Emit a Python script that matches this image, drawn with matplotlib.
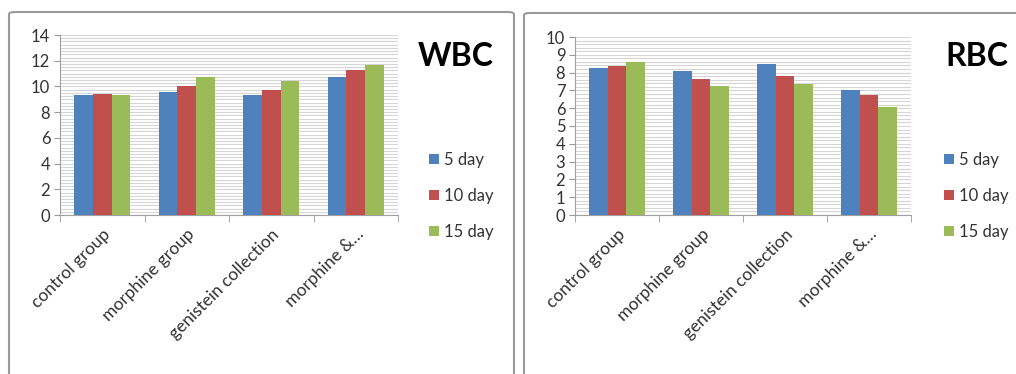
import matplotlib.pyplot as plt
import numpy as np
from matplotlib.patches import FancyBboxPatch
from matplotlib.ticker import MultipleLocator, FixedLocator

plt.rcParams['font.family'] = ['Lato', 'DejaVu Sans']

# groups and days
groups = ['control group', 'morphine group', 'genistein collection', 'morphine &…']
days = ['5 day', '10 day', '15 day']
colors = ['#4F81BD', '#C0504D', '#9BBB59']

# white blood cells
wbc_5 = [9.3, 9.6, 9.35, 10.75]
wbc_10 = [9.45, 10.0, 9.75, 11.25]
wbc_15 = [9.3, 10.75, 10.4, 11.65]

# red blood cells
rbc_5 = [8.25, 8.07, 8.5, 7.03]
rbc_10 = [8.37, 7.66, 7.79, 6.75]
rbc_15 = [8.58, 7.27, 7.36, 6.07]

W, H = 1016, 374
fig = plt.figure(figsize=(W / 100, H / 100), dpi=100)


def px(x0, y0, x1, y1):
    # pixel box (top-left origin) -> figure rect
    return [x0 / W, 1 - y1 / H, (x1 - x0) / W, (y1 - y0) / H]


# panel frames
for (x0, y0, x1, y1) in [(9, 12, 514, 380), (524, 13, 1030, 380)]:
    fig.patches.append(FancyBboxPatch((x0 / W, 1 - y1 / H), (x1 - x0) / W, (y1 - y0) / H,
                                      boxstyle='round,pad=0,rounding_size=0.006',
                                      transform=fig.transFigure, fill=False,
                                      edgecolor='#9a9a9a', linewidth=1.5))


def draw_panel(rect, series, ymax, minor, title, title_xy, leg_xy):
    ax = fig.add_axes(rect)
    x = np.arange(len(groups))
    w = 0.22
    for i, (vals, lab) in enumerate(zip(series, days)):
        ax.bar(x + (i - 1) * w, vals, w, color=colors[i], label=lab, zorder=3)
    ax.set_xlim(-0.5, len(groups) - 0.5)
    ax.set_ylim(0, ymax)
    ax.yaxis.set_major_locator(MultipleLocator(2 if ymax > 10 else 1))
    ax.yaxis.set_minor_locator(MultipleLocator(minor))
    ax.grid(axis='y', which='both', color='#d6d6d6', linewidth=0.8, zorder=0)
    ax.set_xticks(x)
    ax.set_xticklabels(groups, rotation=45, ha='right', rotation_mode='anchor',
                       fontsize=12.5, color='#333333')
    ax.xaxis.set_minor_locator(FixedLocator(np.arange(-0.5, len(groups), 1)))
    ax.tick_params(axis='x', which='major', length=0, pad=8)
    ax.tick_params(axis='x', which='minor', length=5, color='#999999')
    ax.tick_params(axis='y', which='major', length=4, color='#999999',
                   labelsize=12, labelcolor='#333333', pad=3)
    ax.tick_params(axis='y', which='minor', length=0)
    for s in ['top', 'right']:
        ax.spines[s].set_visible(False)
    for s in ['left', 'bottom']:
        ax.spines[s].set_color('#a0a0a0')
    fig.text(title_xy[0] / W, 1 - title_xy[1] / H, title, fontsize=23,
             fontweight='bold', ha='center', va='center')
    ax.legend(loc='upper left', bbox_to_anchor=(leg_xy[0] / W, 1 - leg_xy[1] / H),
              bbox_transform=fig.transFigure, frameon=False, fontsize=12,
              handlelength=0.6, handleheight=0.6, handletextpad=0.3,
              labelspacing=1.2, labelcolor='#333333')
    return ax


draw_panel(px(60, 35, 398, 215), [wbc_5, wbc_10, wbc_15], 14, 0.25,
           'WBC', (456, 56), (414, 137))
draw_panel(px(575, 37, 911, 215), [rbc_5, rbc_10, rbc_15], 10, 0.2,
           'RBC', (977, 57), (929, 137))

fig.savefig('out.png', dpi=100)
